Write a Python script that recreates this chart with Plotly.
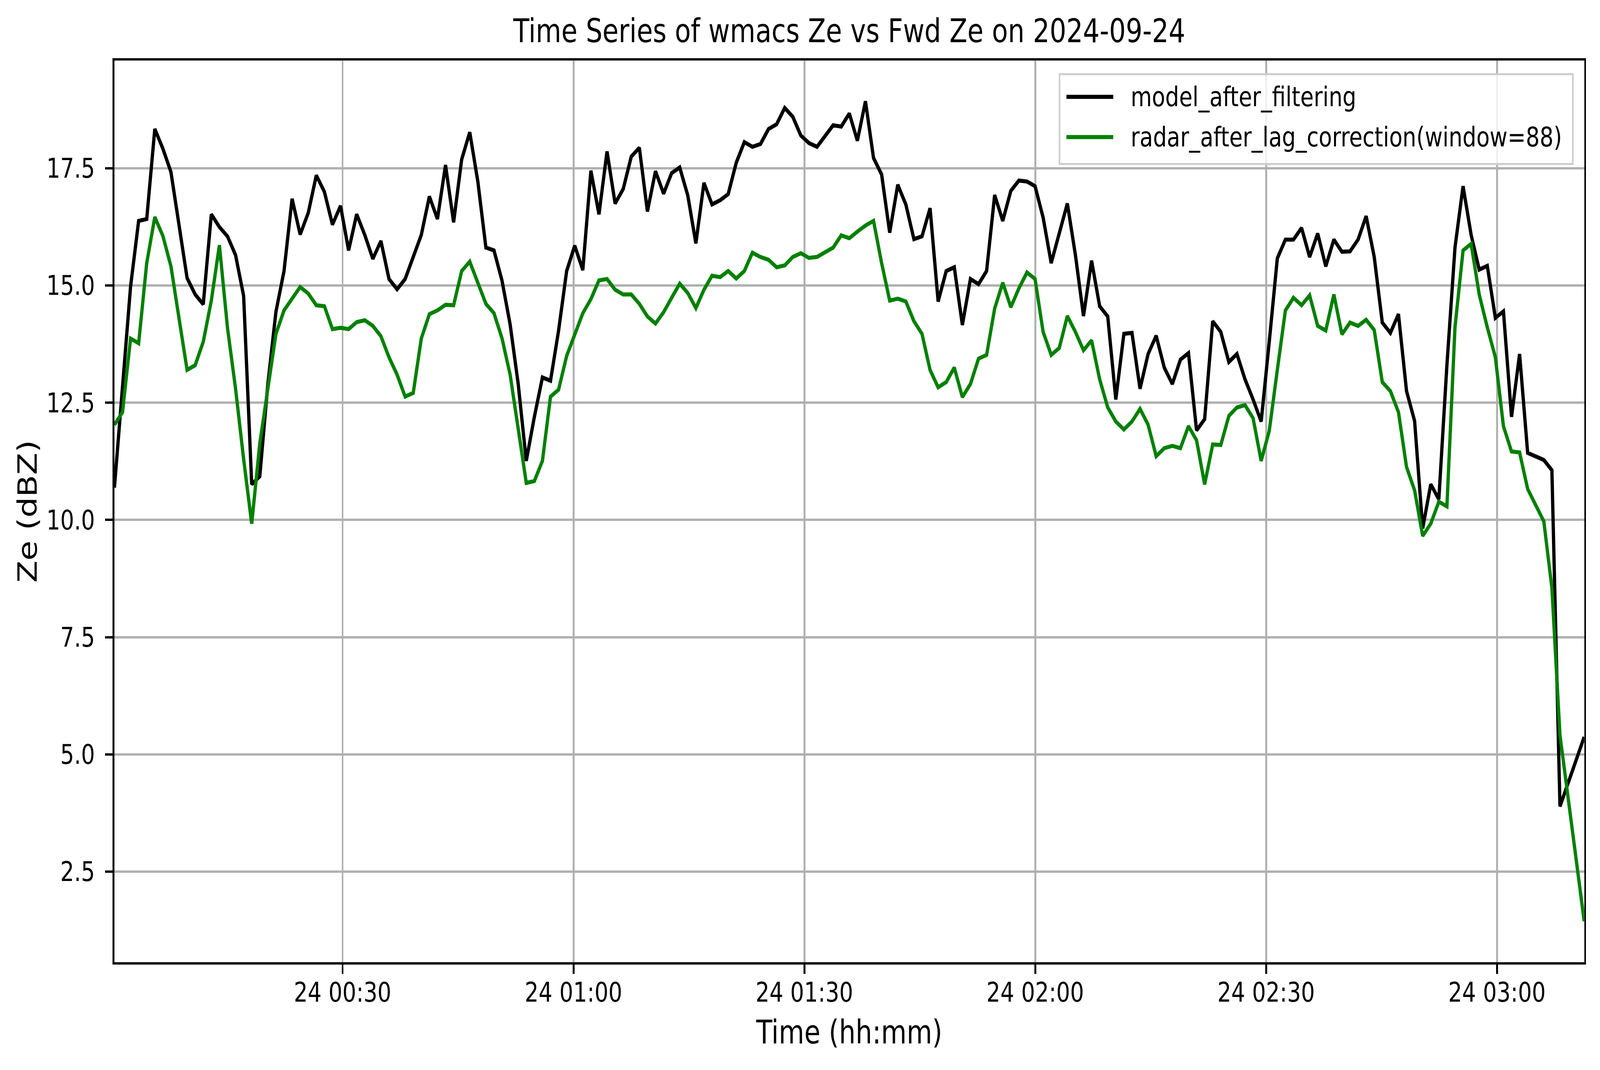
import pandas as pd
import plotly.graph_objects as go

# readings taken every ~63 s, 2024-09-24 00:00:21 -> 03:11:20
t_start = "2024-09-24 00:00:21"
t_end = "2024-09-24 03:11:20"
n_points = 183

model_ze = [
    10.69, 12.9, 14.98, 16.38, 16.42, 18.34, 17.92, 17.42, 16.3, 15.16,
    14.81, 14.6, 16.52, 16.25, 16.05, 15.65, 14.78, 10.76, 10.93, 12.9,
    14.44, 15.31, 16.85, 16.09, 16.55, 17.35, 17.0, 16.3, 16.7, 15.75,
    16.52, 16.08, 15.57, 15.95, 15.14, 14.92, 15.14, 15.6, 16.08, 16.9,
    16.42, 17.57, 16.35, 17.69, 18.27, 17.22, 15.81, 15.75, 15.1, 14.17,
    12.9, 11.26, 12.2, 13.04, 12.97, 14.04, 15.31, 15.85, 15.33, 17.45,
    16.52, 17.86, 16.75, 17.06, 17.75, 17.94, 16.58, 17.44, 16.96, 17.4,
    17.52, 16.92, 15.9, 17.19, 16.73, 16.82, 16.95, 17.62, 18.06, 17.96,
    18.02, 18.34, 18.44, 18.79, 18.6, 18.2, 18.04, 17.96, 18.18, 18.42,
    18.39, 18.67, 18.09, 18.93, 17.72, 17.37, 16.13, 17.15, 16.73, 15.99,
    16.05, 16.65, 14.66, 15.31, 15.39, 14.16, 15.14, 15.03, 15.31, 16.93,
    16.38, 17.02, 17.24, 17.22, 17.12, 16.45, 15.48, 16.11, 16.75, 15.65,
    14.35, 15.53, 14.56, 14.34, 12.57, 13.97, 13.99, 12.8, 13.54, 13.93,
    13.25, 12.9, 13.42, 13.56, 11.91, 12.15, 14.24, 14.01, 13.37, 13.54,
    13.0, 12.57, 12.1, 13.8, 15.58, 15.98, 15.98, 16.23, 15.61, 16.11,
    15.41, 15.98, 15.72, 15.73, 15.98, 16.48, 15.61, 14.21, 13.99, 14.39,
    12.75, 12.11, 9.82, 10.76, 10.44, 13.3, 15.81, 17.12, 16.08, 15.34,
    15.42, 14.31, 14.45, 12.2, 13.54, 11.43, None, 11.28, 11.06, 3.89,
    None, None, 5.37,
]

radar_ze = [
    12.03, 12.3, 13.87, 13.77, 15.48, 16.46, 16.06, 15.41, 14.3, 13.2,
    13.3, 13.8, 14.68, 15.86, 14.1, 12.8, 11.3, 9.92, 11.63, 12.8,
    13.97, 14.47, 14.72, 14.97, 14.83, 14.58, 14.56, 14.07, 14.1, 14.07,
    14.22, 14.26, 14.14, 13.92, 13.47, 13.1, 12.63, 12.71, 13.87, 14.39,
    14.47, 14.59, 14.58, 15.31, 15.51, 15.06, 14.61, 14.41, 13.87, 13.1,
    11.96, 10.79, 10.83, 11.26, 12.63, 12.78, 13.5, 13.97, 14.41, 14.71,
    15.11, 15.14, 14.91, 14.81, 14.81, 14.61, 14.34, 14.19, 14.43, 14.74,
    15.04, 14.84, 14.52, 14.91, 15.21, 15.18, 15.31, 15.15, 15.31, 15.7,
    15.61, 15.55, 15.39, 15.43, 15.61, 15.69, 15.59, 15.61, 15.71, 15.81,
    16.07, 16.01, 16.15, 16.28, 16.38, 15.48, 14.68, 14.72, 14.66, 14.24,
    13.97, 13.2, 12.83, 12.94, 13.25, 12.62, 12.9, 13.44, 13.52, 14.51,
    15.06, 14.54, 14.94, 15.28, 15.14, 14.01, 13.52, 13.67, 14.35, 14.01,
    13.62, 13.83, 13.0, 12.4, 12.1, 11.93, 12.1, 12.37, 12.03, 11.36,
    11.53, 11.58, 11.53, 12.0, 11.7, 10.76, 11.61, 11.6, 12.22, 12.4,
    12.45, 12.17, 11.26, 11.9, 13.2, 14.47, 14.74, 14.58, 14.79, 14.14,
    14.04, 14.81, 13.96, 14.21, 14.14, 14.27, 14.05, 12.94, 12.75, 12.3,
    11.13, 10.63, 9.66, 9.92, 10.39, 10.29, 14.11, 15.75, 15.89, 14.81,
    14.11, 13.47, 12.0, 11.46, 11.44, 10.66, None, 9.97, 8.55, 5.41,
    None, None, 1.44,
]

series_names = ["model_after_filtering", "radar_after_lag_correction(window=88)"]
series_colors = ["black", "green"]

tick_times = ["2024-09-24 00:30", "2024-09-24 01:00", "2024-09-24 01:30",
              "2024-09-24 02:00", "2024-09-24 02:30", "2024-09-24 03:00"]
y_ticks = [2.5, 5.0, 7.5, 10.0, 12.5, 15.0, 17.5]

times = pd.date_range(t_start, t_end, periods=n_points)

W, H = 5062, 2740
ml, mr, mt, mb = 362, 50, 155, 276
FONT = "DejaVu Sans"
LW = 10.4

fig = go.Figure()
for name, vals, col in zip(series_names, [model_ze, radar_ze], series_colors):
    fig.add_trace(go.Scatter(x=times, y=vals, mode="lines", name=name,
                             line=dict(color=col, width=LW), connectgaps=True,
                             showlegend=False))

axis_common = dict(showline=True, linecolor="black", linewidth=5.5, mirror=True,
                   showgrid=True, gridcolor="#b0b0b0", gridwidth=5.5,
                   ticks="outside", ticklen=24, tickwidth=5.5, tickcolor="black",
                   tickfont=dict(family=FONT, size=69, color="black"),
                   zeroline=False)

fig.update_xaxes(range=[times[0], times[-1]], tickvals=tick_times,
                 tickformat="%d %H:%M", ticklabelstandoff=-12,
                 title=dict(text="Time (hh:mm)", standoff=36,
                            font=dict(family=FONT, size=83, color="black")),
                 **axis_common)
fig.update_yaxes(range=[0.566, 19.80], tickvals=y_ticks, tickformat=".1f",
                 ticklabelstandoff=18,
                 title=dict(text="Ze (dBZ)", standoff=4,
                            font=dict(family=FONT, size=83, color="black")),
                 **axis_common)

# legend box drawn like matplotlib's (upper right)
def px_x(px):
    return (px - ml) / (W - ml - mr)

def px_y(py):
    return (H - mb - py) / (H - mt - mb)

shapes = [dict(type="rect", xref="paper", yref="paper",
               x0=px_x(3352), x1=px_x(4976), y0=px_y(420), y1=px_y(190),
               line=dict(color="#cccccc", width=5), fillcolor="rgba(255,255,255,0.8)",
               layer="above")]
annotations = []
for k, (name, col) in enumerate(zip(series_names, series_colors)):
    ly = px_y(248 + 103 * k)
    shapes.append(dict(type="line", xref="paper", yref="paper",
                       x0=px_x(3374), x1=px_x(3522), y0=ly, y1=ly,
                       line=dict(color=col, width=LW), layer="above"))
    annotations.append(dict(xref="paper", yref="paper", x=px_x(3575), y=ly,
                            xanchor="left", yanchor="middle", showarrow=False,
                            text=name, font=dict(family=FONT, size=69, color="black")))

fig.update_layout(
    width=W, height=H,
    margin=dict(l=ml, r=mr, t=mt, b=mb),
    paper_bgcolor="white", plot_bgcolor="white",
    title=dict(text="Time Series of wmacs Ze vs Fwd Ze on 2024-09-24",
               x=0.5, xref="paper", xanchor="center",
               y=1 - 79 / H, yref="container", yanchor="middle",
               font=dict(family=FONT, size=83, color="black")),
    shapes=shapes, annotations=annotations,
)

# if the browser viewport is smaller than the figure, scale the drawn figure to fill it
fit_js = """
var gd = document.getElementById('{plot_id}');
document.documentElement.style.overflow = 'hidden';
document.body.style.overflow = 'hidden';
document.body.style.margin = '0';
var sx = Math.min(1, window.innerWidth / %d);
var sy = Math.min(1, window.innerHeight / %d);
if (sx < 1 || sy < 1) {
    var wrap = gd.parentElement;
    wrap.style.width = (%d * sx) + 'px';
    wrap.style.height = (%d * sy) + 'px';
    wrap.style.overflow = 'hidden';
    gd.style.transformOrigin = '0 0';
    gd.style.transform = 'scale(' + sx + ',' + sy + ')';
}
""" % (W, H, W, H)

fig.write_html("out.html", post_script=fit_js, config={"displayModeBar": False})
